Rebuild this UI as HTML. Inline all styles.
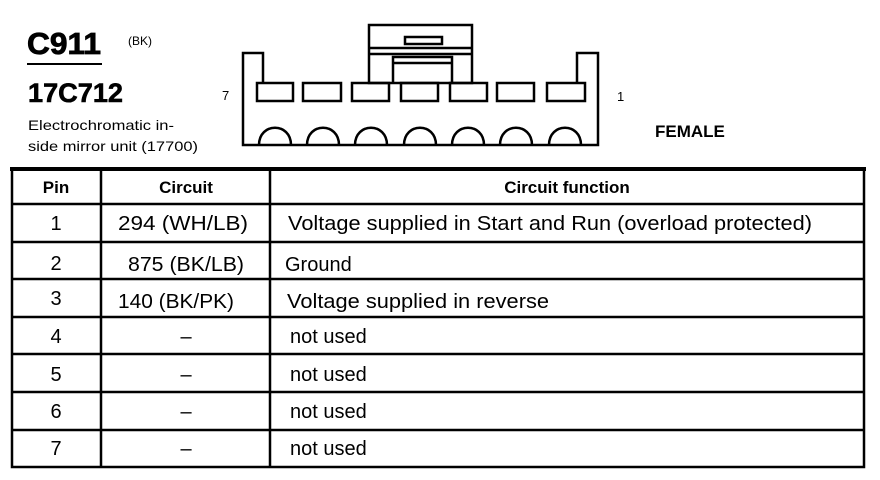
<!DOCTYPE html>
<html><head><meta charset="utf-8"><style>
html,body{margin:0;padding:0;background:#fff;}
svg{display:block;}
text{font-family:"Liberation Sans",Arial,sans-serif;fill:#000;}
</style></head><body>
<svg width="880" height="480" viewBox="0 0 880 480" xmlns="http://www.w3.org/2000/svg">
<!-- Header text -->
<text x="27" y="54" font-size="31" font-weight="bold" style="font-weight:700" stroke="#000" stroke-width="0.8" textLength="74" lengthAdjust="spacingAndGlyphs">C911</text>
<text x="128" y="45" font-size="12">(BK)</text>
<line x1="27" y1="64" x2="102" y2="64" stroke="#000" stroke-width="2"/>
<text x="28" y="102" font-size="27" font-weight="bold" stroke="#000" stroke-width="0.6" textLength="95" lengthAdjust="spacingAndGlyphs">17C712</text>
<text x="28" y="130" font-size="14" textLength="146" lengthAdjust="spacingAndGlyphs">Electrochromatic in-</text>
<text x="28" y="151" font-size="14" textLength="170" lengthAdjust="spacingAndGlyphs">side mirror unit (17700)</text>
<text x="222" y="100" font-size="13">7</text>
<text x="617" y="101" font-size="13">1</text>
<text x="655" y="137" font-size="17" font-weight="bold">FEMALE</text>

<!-- Connector -->
<g fill="none" stroke="#000" stroke-width="2.5">
<path d="M263 83 V53 H243 V145 H598 V53 H577 V83"/>
<rect x="369" y="25" width="103" height="58"/>
<rect x="405" y="37" width="37" height="7"/>
<line x1="369" y1="48" x2="472" y2="48"/>
<line x1="369" y1="54" x2="472" y2="54"/>
<path d="M393 83 V57 H452 V83"/>
<line x1="393" y1="63" x2="452" y2="63"/>
<rect x="257" y="83" width="36" height="18"/>
<rect x="303" y="83" width="38" height="18"/>
<rect x="352" y="83" width="37" height="18"/>
<rect x="401" y="83" width="37" height="18"/>
<rect x="450" y="83" width="37" height="18"/>
<rect x="497" y="83" width="37" height="18"/>
<rect x="547" y="83" width="38" height="18"/>
<path d="M259 145 C259 122 291 122 291 145"/>
<path d="M307 145 C307 122 339 122 339 145"/>
<path d="M355 145 C355 122 387 122 387 145"/>
<path d="M404 145 C404 122 436 122 436 145"/>
<path d="M452 145 C452 122 484 122 484 145"/>
<path d="M500 145 C500 122 532 122 532 145"/>
<path d="M549 145 C549 122 581 122 581 145"/>
</g>

<!-- Table -->
<g stroke="#000" fill="none">
<line x1="10" y1="169" x2="866" y2="169" stroke-width="4"/>
<rect x="12" y="169" width="852" height="298" stroke-width="2.5"/>
<line x1="101" y1="169" x2="101" y2="467" stroke-width="2.5"/>
<line x1="270" y1="169" x2="270" y2="467" stroke-width="2.5"/>
<line x1="12" y1="204" x2="864" y2="204" stroke-width="2.5"/>
<line x1="12" y1="242" x2="864" y2="242" stroke-width="2.5"/>
<line x1="12" y1="279" x2="864" y2="279" stroke-width="2.5"/>
<line x1="12" y1="317" x2="864" y2="317" stroke-width="2.5"/>
<line x1="12" y1="354" x2="864" y2="354" stroke-width="2.5"/>
<line x1="12" y1="392" x2="864" y2="392" stroke-width="2.5"/>
<line x1="12" y1="430" x2="864" y2="430" stroke-width="2.5"/>
</g>
<g font-size="17" font-weight="bold">
<text x="56" y="193" text-anchor="middle">Pin</text>
<text x="186" y="193" text-anchor="middle">Circuit</text>
<text x="567" y="193" text-anchor="middle">Circuit function</text>
</g>
<g font-size="20">
<text x="56" y="230" text-anchor="middle">1</text>
<text x="118" y="230" textLength="130" lengthAdjust="spacingAndGlyphs">294 (WH/LB)</text>
<text x="288" y="230" textLength="524" lengthAdjust="spacingAndGlyphs">Voltage supplied in Start and Run (overload protected)</text>
<text x="56" y="270" text-anchor="middle">2</text>
<text x="128" y="271" textLength="116" lengthAdjust="spacingAndGlyphs">875 (BK/LB)</text>
<text x="285" y="271">Ground</text>
<text x="56" y="305" text-anchor="middle">3</text>
<text x="118" y="308" textLength="116" lengthAdjust="spacingAndGlyphs">140 (BK/PK)</text>
<text x="287" y="308" textLength="262" lengthAdjust="spacingAndGlyphs">Voltage supplied in reverse</text>
<text x="56" y="343" text-anchor="middle">4</text>
<text x="186" y="343" text-anchor="middle">–</text>
<text x="290" y="343">not used</text>
<text x="56" y="381" text-anchor="middle">5</text>
<text x="186" y="381" text-anchor="middle">–</text>
<text x="290" y="381">not used</text>
<text x="56" y="418" text-anchor="middle">6</text>
<text x="186" y="418" text-anchor="middle">–</text>
<text x="290" y="418">not used</text>
<text x="56" y="455" text-anchor="middle">7</text>
<text x="186" y="455" text-anchor="middle">–</text>
<text x="290" y="455">not used</text>
</g>
</svg>
</body></html>
